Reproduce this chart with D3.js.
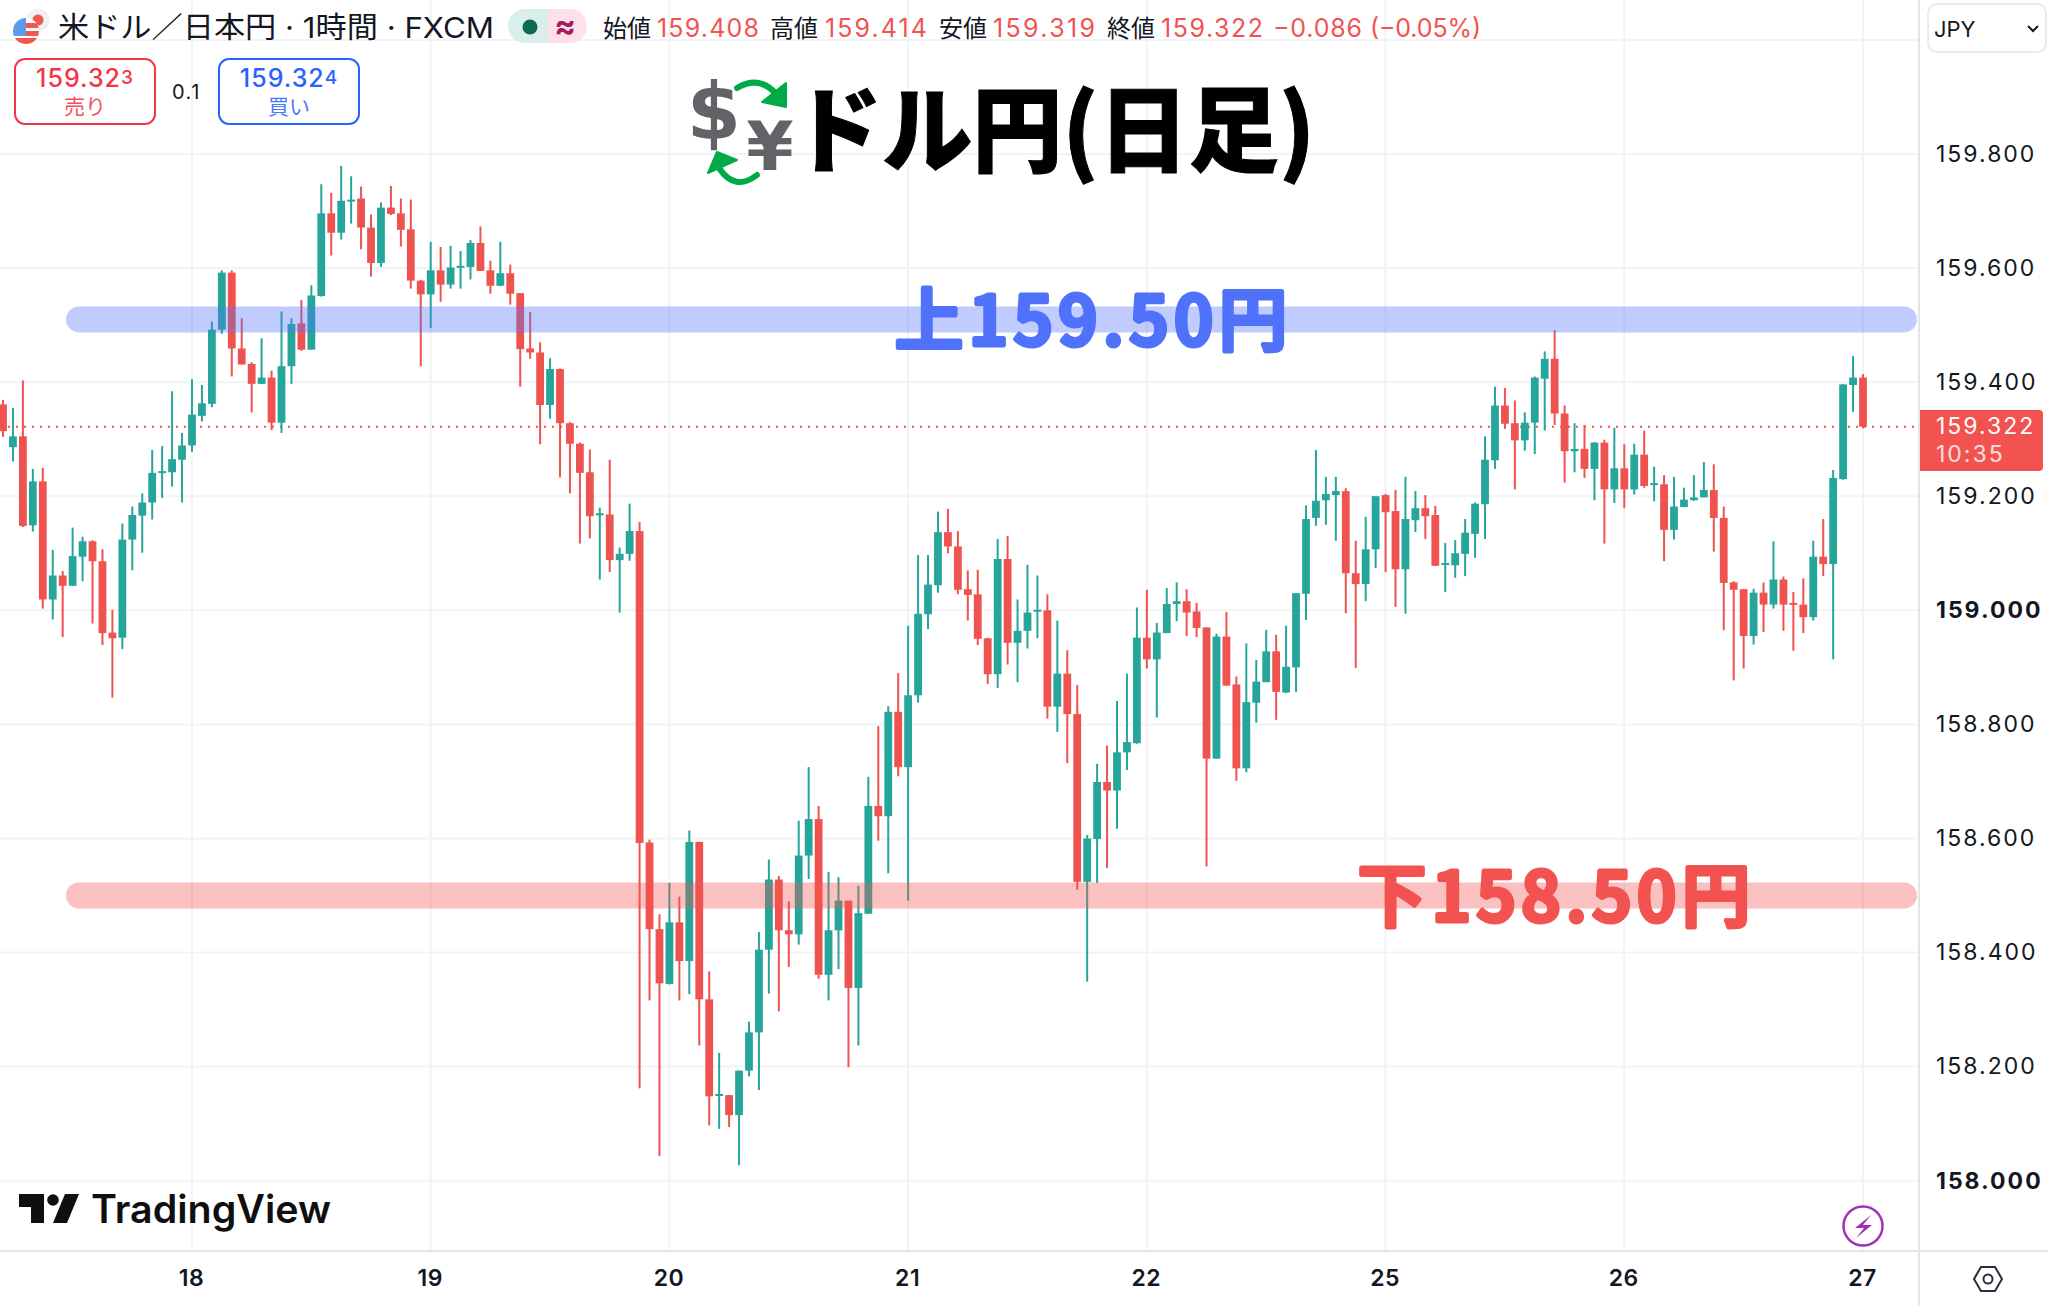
<!DOCTYPE html>
<html lang="ja">
<head>
<meta charset="utf-8">
<title>ドル円(日足)</title>
<script src="https://cdn.jsdelivr.net/npm/d3@7"></script>
<style>
  html, body { margin: 0; padding: 0; background: #fff; }
  svg { display: block; }
  text { font-family: Inter, "Noto Sans CJK JP", sans-serif; }
</style>
</head>
<body>
<div id="chart"></div>
<script>
// hourly candles, left to right
var opens = [
159.361,159.286,159.305,159.149,159.226,159.019,159.061,159.043,159.094,159.121,
159.086,158.961,158.952,159.124,159.166,159.189,159.242,159.242,159.264,159.289,
159.341,159.362,159.492,159.592,159.459,159.432,159.397,159.408,159.329,159.428,
159.503,159.457,159.551,159.696,159.662,159.718,159.722,159.671,159.609,159.706,
159.696,159.668,159.578,159.554,159.596,159.571,159.602,159.602,159.644,159.596,
159.569,159.591,159.556,159.459,159.452,159.360,159.423,159.328,159.292,159.242,
159.167,159.168,159.088,159.099,159.139,158.593,158.441,158.345,158.453,158.385,
158.594,158.318,158.149,158.150,158.115,158.193,158.260,158.405,158.528,158.439,
158.432,158.570,158.634,158.361,158.439,158.491,158.338,158.468,158.657,158.639,
158.822,158.725,158.851,158.993,159.044,159.137,159.112,159.037,159.028,158.951,
158.888,159.090,158.943,158.964,158.999,159.000,158.831,158.889,158.818,158.524,
158.599,158.699,158.684,158.751,158.767,158.952,158.914,158.960,159.011,159.016,
158.998,158.970,158.740,158.954,158.870,158.723,158.838,158.874,158.928,158.856,
158.900,159.029,159.162,159.193,159.202,159.209,159.065,159.046,159.107,159.202,
159.174,159.072,159.158,159.179,159.167,159.081,159.079,159.099,159.134,159.186,
159.263,159.359,159.328,159.298,159.329,159.406,159.441,159.345,159.279,159.283,
159.248,159.294,159.212,159.249,159.212,159.273,159.221,159.221,159.141,159.181,
159.193,159.198,159.211,159.162,159.049,159.037,158.955,159.031,159.010,159.054,
159.013,159.010,158.988,159.094,159.081,159.230,159.395,159.408];
var highs = [
159.369,159.355,159.403,159.248,159.250,159.106,159.069,159.145,159.129,159.123,
159.107,159.001,159.152,159.182,159.205,159.281,159.288,159.384,159.311,159.405,
159.395,159.506,159.596,159.596,159.512,159.435,159.477,159.420,159.524,159.512,
159.544,159.570,159.747,159.732,159.779,159.761,159.743,159.694,159.715,159.744,
159.722,159.720,159.579,159.646,159.637,159.639,159.630,159.649,159.673,159.613,
159.646,159.606,159.556,159.523,159.470,159.442,159.424,159.330,159.294,159.282,
159.180,159.264,159.110,159.187,159.155,158.598,158.467,158.522,158.498,158.614,
158.594,158.367,158.224,158.150,158.193,158.279,158.436,158.563,158.534,158.490,
158.631,158.725,158.657,158.541,158.532,158.491,158.517,158.708,158.797,158.832,
158.890,158.973,159.097,159.097,159.173,159.178,159.139,159.070,159.071,158.952,
159.125,159.130,159.019,159.080,159.061,159.028,158.982,158.930,158.869,158.606,
158.731,158.763,158.841,158.889,159.005,159.036,158.978,159.039,159.049,159.037,
159.013,158.970,158.959,158.997,158.884,158.942,158.913,158.966,158.957,158.973,
159.030,159.184,159.281,159.234,159.234,159.214,159.122,159.164,159.200,159.204,
159.211,159.234,159.209,159.202,159.183,159.118,159.123,159.160,159.189,159.305,
159.392,159.390,159.368,159.347,159.410,159.454,159.491,159.359,159.328,159.325,
159.295,159.299,159.320,159.291,159.292,159.315,159.252,159.237,159.234,159.215,
159.237,159.260,159.256,159.182,159.051,159.037,159.038,159.049,159.121,159.059,
159.032,159.056,159.122,159.160,159.246,159.397,159.446,159.414];
var lows = [
159.304,159.261,159.146,159.138,159.003,158.984,158.953,159.043,159.051,158.977,
158.939,158.847,158.932,159.070,159.101,159.159,159.197,159.217,159.189,159.278,
159.331,159.356,159.485,159.410,159.431,159.347,159.397,159.316,159.311,159.397,
159.455,159.457,159.550,159.622,159.650,159.678,159.633,159.585,159.602,159.693,
159.638,159.564,159.428,159.495,159.541,159.564,159.564,159.580,159.595,159.555,
159.569,159.536,159.392,159.441,159.291,159.336,159.233,159.205,159.117,159.126,
159.054,159.067,158.996,159.087,158.162,158.316,158.043,158.344,158.316,158.327,
158.237,158.097,158.091,158.094,158.027,158.183,158.159,158.328,158.297,158.375,
158.414,158.529,158.354,158.316,158.371,158.199,158.237,158.468,158.596,158.539,
158.709,158.491,158.838,158.967,159.031,159.100,159.028,158.982,158.939,158.871,
158.864,158.905,158.874,158.933,158.951,158.810,158.787,158.732,158.510,158.349,
158.522,158.548,158.617,158.720,158.766,158.898,158.812,158.960,158.981,158.955,
158.953,158.551,158.740,158.868,158.701,158.716,158.803,158.874,158.808,158.855,
158.857,158.983,159.148,159.150,159.122,158.995,158.899,159.016,159.074,159.067,
159.006,158.994,159.137,159.125,159.078,159.032,159.057,159.060,159.092,159.125,
159.248,159.318,159.212,159.280,159.274,159.315,159.325,159.224,159.242,159.232,
159.193,159.117,159.188,159.179,159.203,159.215,159.191,159.086,159.124,159.181,
159.192,159.198,159.103,158.965,158.877,158.898,158.940,158.962,159.003,158.964,
158.929,158.960,158.982,159.060,158.914,159.229,159.348,159.319];
var closes = [
159.314,159.305,159.148,159.226,159.019,159.061,159.043,159.095,159.121,159.086,
158.960,158.951,159.124,159.167,159.189,159.241,159.244,159.265,159.289,159.343,
159.363,159.492,159.592,159.459,159.431,159.397,159.408,159.329,159.428,159.502,
159.457,159.552,159.696,159.662,159.718,159.720,159.671,159.609,159.706,159.695,
159.667,159.578,159.554,159.596,159.571,159.601,159.604,159.644,159.595,159.569,
159.591,159.555,159.458,159.452,159.360,159.423,159.328,159.292,159.241,159.165,
159.170,159.088,159.099,159.139,158.592,158.441,158.346,158.453,158.385,158.594,
158.318,158.148,158.152,158.115,158.193,158.260,158.405,158.528,158.439,158.432,
158.570,158.634,158.361,158.439,158.491,158.338,158.469,158.657,158.639,158.822,
158.725,158.851,158.994,159.045,159.137,159.112,159.036,159.027,158.950,158.888,
159.090,158.943,158.964,158.996,159.001,158.831,158.889,158.818,158.524,158.600,
158.699,158.684,158.751,158.769,158.952,158.914,158.961,159.011,159.016,158.996,
158.969,158.740,158.954,158.868,158.723,158.839,158.875,158.928,158.857,158.901,
159.030,159.160,159.192,159.204,159.209,159.065,159.046,159.107,159.200,159.172,
159.072,159.160,159.179,159.165,159.078,159.083,159.100,159.136,159.187,159.264,
159.359,159.327,159.298,159.329,159.408,159.441,159.345,159.279,159.283,159.248,
159.294,159.212,159.249,159.212,159.273,159.218,159.223,159.141,159.182,159.194,
159.198,159.211,159.162,159.048,159.036,158.955,159.031,159.010,159.054,159.010,
159.011,158.988,159.094,159.081,159.232,159.396,159.408,159.322];

var dayLabels = ["18", "19", "20", "21", "22", "25", "26", "27"];
var dayIndex = [19, 43, 67, 91, 115, 139, 163, 187];
var priceTicks = [160.0, 159.8, 159.6, 159.4, 159.2, 159.0, 158.8, 158.6, 158.4, 158.2, 158.0];
var priceLabels = [159.8, 159.6, 159.4, 159.2, 159.0, 158.8, 158.6, 158.4, 158.2, 158.0];
var boldPrices = [159.0, 158.0];
var lastPrice = 159.322;
var bandLevels = [159.51, 158.50];

var upColor = "#26a69a", downColor = "#ef5350", blue = "#5071fa", red = "#f25350";
var textColor = "#131722";

var svg = d3.select("#chart").append("svg").attr("width", 2048).attr("height", 1305);

var paneRight = 1919, paneBottom = 1251;

var x = d3.scaleLinear().domain([0, 187]).range([3, 1863]);
var y = d3.scaleLinear().domain([159.8, 158.0]).range([154, 1180.7]);

// grid
var grid = svg.append("g");
grid.selectAll(".h").data(priceTicks).enter().append("line")
  .attr("x1", 0).attr("x2", paneRight)
  .attr("y1", d => y(d)).attr("y2", d => y(d))
  .attr("stroke", "#f2f3f5").attr("stroke-width", 2);
grid.selectAll(".v").data(dayIndex).enter().append("line")
  .attr("x1", d => x(d)).attr("x2", d => x(d))
  .attr("y1", 0).attr("y2", paneBottom)
  .attr("stroke", "#f2f3f5").attr("stroke-width", 2);

// last price dotted line
svg.append("line")
  .attr("x1", 0).attr("x2", paneRight)
  .attr("y1", y(lastPrice)).attr("y2", y(lastPrice))
  .attr("stroke", downColor).attr("stroke-width", 2).attr("stroke-dasharray", "2 6");

// candles
var candles = svg.append("g").selectAll("g").data(opens).enter().append("g")
  .attr("fill", (d, i) => closes[i] >= d ? upColor : downColor);
candles.append("rect")
  .attr("x", (d, i) => x(i) - 1)
  .attr("width", 2)
  .attr("y", (d, i) => y(highs[i]))
  .attr("height", (d, i) => y(lows[i]) - y(highs[i]));
candles.append("rect")
  .attr("x", (d, i) => x(i) - 3.9)
  .attr("width", 7.8)
  .attr("y", (d, i) => y(Math.max(d, closes[i])))
  .attr("height", (d, i) => Math.max(2, Math.abs(y(d) - y(closes[i]))));

// hand drawn bands
svg.append("g").selectAll("rect").data(bandLevels).enter().append("rect")
  .attr("x", 66).attr("width", 1851)
  .attr("y", d => y(d) - 13).attr("height", 26).attr("rx", 13)
  .attr("fill", (d, i) => i == 0 ? blue : red)
  .attr("opacity", 0.36);

// band captions, rounded with a thick stroke
function caption(txt, left, base, width, color) {
  svg.append("text").text(txt)
    .attr("x", left).attr("y", base)
    .attr("textLength", width).attr("lengthAdjust", "spacing")
    .attr("fill", color).attr("stroke", color).attr("stroke-width", 5)
    .attr("stroke-linejoin", "round").attr("stroke-linecap", "round")
    .style("font-family", '"Noto Sans CJK JP"').style("font-weight", 500).style("font-size", "68px");
}
caption("上159.50円", 895, 345, 392, blue);
caption("下158.50円", 1358, 921, 392, red);

// big title
svg.append("text").text("ドル円(日足)")
  .attr("x", 792).attr("y", 165)
  .attr("textLength", 523).attr("lengthAdjust", "spacingAndGlyphs")
  .attr("fill", "#000").attr("stroke", "#000").attr("stroke-width", 1)
  .style("font-family", '"Noto Sans CJK JP"').style("font-weight", 900).style("font-size", "94px");

// currency exchange emoji
svg.append("text").text("$").attr("x", 714).attr("y", 139).attr("text-anchor", "middle")
  .attr("fill", "#626367").style("font-family", "'DejaVu Sans'").style("font-weight", 700).style("font-size", "78px");
svg.append("text").text("¥").attr("x", 770).attr("y", 170).attr("text-anchor", "middle")
  .attr("fill", "#626367").style("font-family", "'DejaVu Sans'").style("font-weight", 700).style("font-size", "68px");
svg.append("path").attr("d", "M737,88 Q760,74 778,96").attr("fill", "none").attr("stroke", "#00ab47")
  .attr("stroke-width", 6).attr("stroke-linecap", "round");
svg.append("path").attr("d", "M786,83 L786,107 L762,102 Z").attr("fill", "#00ab47")
  .attr("stroke", "#00ab47").attr("stroke-width", 2).attr("stroke-linejoin", "round");
svg.append("path").attr("d", "M757,175 Q735,192 719,168").attr("fill", "none").attr("stroke", "#00ab47")
  .attr("stroke-width", 6).attr("stroke-linecap", "round");
svg.append("path").attr("d", "M708,173 L717,152 L737,160 Z").attr("fill", "#00ab47")
  .attr("stroke", "#00ab47").attr("stroke-width", 2).attr("stroke-linejoin", "round");

// pair flags
var defs = svg.append("defs");
defs.append("clipPath").attr("id", "usClip").append("circle").attr("cx", 26).attr("cy", 31).attr("r", 13);
svg.append("circle").attr("cx", 38).attr("cy", 20).attr("r", 11.5).attr("fill", "#eef0f3");
svg.append("circle").attr("cx", 38).attr("cy", 20).attr("r", 5.5).attr("fill", "#f0584f");
var us = svg.append("g").attr("clip-path", "url(#usClip)");
us.append("rect").attr("x", 10).attr("y", 15).attr("width", 32).attr("height", 32).attr("fill", "#fff");
us.append("rect").attr("x", 26).attr("y", 23).attr("width", 16).attr("height", 5).attr("fill", "#f0584f");
us.append("rect").attr("x", 26).attr("y", 31).attr("width", 16).attr("height", 5).attr("fill", "#f0584f");
us.append("rect").attr("x", 10).attr("y", 38).attr("width", 32).attr("height", 9).attr("fill", "#f0584f");
us.append("rect").attr("x", 10).attr("y", 15).attr("width", 16).attr("height", 21).attr("fill", "#5b9be8");

// header
svg.append("text").text("米ドル／日本円 · 1時間 · FXCM")
  .attr("x", 58).attr("y", 38).attr("textLength", 436).attr("lengthAdjust", "spacingAndGlyphs")
  .attr("fill", textColor).style("font-size", "29px");

svg.append("path").attr("d", "M548,9 H525 A17,17 0 0 0 525,43 H548 Z").attr("fill", "#daefeb");
svg.append("path").attr("d", "M548,9 H570 A17,17 0 0 1 570,43 H548 Z").attr("fill", "#fde0ea");
svg.append("circle").attr("cx", 530).attr("cy", 27).attr("r", 7.5).attr("fill", "#0b6b57");
svg.append("text").text("≈").attr("x", 565).attr("y", 37).attr("text-anchor", "middle")
  .attr("fill", "#a81b5a").style("font-size", "32px").style("font-weight", 700);

var ohlcLabels = ["始値", "高値", "安値", "終値"];
var ohlcValues = ["159.408", "159.414", "159.319", "159.322"];
var ohlcLabelX = [603, 770, 939, 1107];
var ohlcValueX = [657, 825, 993, 1161];
ohlcLabels.forEach(function(l, i) {
  svg.append("text").text(l).attr("x", ohlcLabelX[i]).attr("y", 37)
    .attr("fill", textColor).style("font-size", "24px");
  svg.append("text").text(ohlcValues[i]).attr("x", ohlcValueX[i]).attr("y", 37)
    .attr("textLength", 102).attr("fill", red).style("font-size", "25px");
});
svg.append("text").text("−0.086").attr("x", 1273).attr("y", 37).attr("textLength", 89)
  .attr("fill", red).style("font-size", "25px");
svg.append("text").text("(−0.05%)").attr("x", 1370).attr("y", 37).attr("textLength", 111)
  .attr("fill", red).style("font-size", "25px");

// sell / buy buttons
function button(left, width, color, lastDigit, label) {
  svg.append("rect").attr("x", left).attr("y", 59).attr("width", width).attr("height", 65).attr("rx", 10)
    .attr("fill", "#fff").attr("stroke", color).attr("stroke-width", 2);
  var t = svg.append("text").attr("x", left + width / 2).attr("y", 87).attr("text-anchor", "middle")
    .attr("fill", color).style("font-weight", 500).style("font-size", "25px").style("letter-spacing", "1px");
  t.append("tspan").text("159.32");
  t.append("tspan").text(lastDigit).attr("dy", -3).style("font-size", "19px");
  svg.append("text").text(label).attr("x", left + width / 2).attr("y", 114).attr("text-anchor", "middle")
    .attr("fill", color).attr("opacity", 0.85).style("font-size", "21px");
}
button(15, 140, "#f23645", "3", "売り");
button(219, 140, "#2962ff", "4", "買い");
svg.append("text").text("0.1").attr("x", 172).attr("y", 99).attr("fill", textColor)
  .style("font-size", "20px").style("letter-spacing", "1.5px");

// price axis
svg.append("line").attr("x1", paneRight).attr("x2", paneRight).attr("y1", 0).attr("y2", 1305)
  .attr("stroke", "#e3e4e7").attr("stroke-width", 2);
var yAxis = d3.axisRight(y).tickValues(priceLabels).tickFormat(d3.format(".3f")).tickSize(0).tickPadding(0);
var yg = svg.append("g").attr("transform", "translate(1936,0)").call(yAxis);
yg.select(".domain").remove();
yg.selectAll("text")
  .attr("fill", textColor)
  .style("font-family", "Inter").style("font-size", "23px").style("letter-spacing", "2px")
  .style("font-weight", d => boldPrices.includes(d) ? 700 : 400);

// last price tag
svg.append("path").attr("d", "M1920,410 H2039 A4,4 0 0 1 2043,414 V467 A4,4 0 0 1 2039,471 H1920 Z").attr("fill", red);
svg.append("text").text(d3.format(".3f")(lastPrice)).attr("x", 1936).attr("y", 434).attr("fill", "#fff")
  .style("font-size", "23px").style("letter-spacing", "2px");
svg.append("text").text("10:35").attr("x", 1936).attr("y", 462).attr("fill", "#fff").attr("opacity", 0.8)
  .style("font-size", "23px").style("letter-spacing", "2px");

// JPY button
svg.append("rect").attr("x", 1928).attr("y", 4).attr("width", 118).attr("height", 48).attr("rx", 9)
  .attr("fill", "#fff").attr("stroke", "#ebebed").attr("stroke-width", 2);
svg.append("text").text("JPY").attr("x", 1934).attr("y", 37).attr("fill", textColor).style("font-size", "22px");
svg.append("path").attr("d", "M2028,26 L2033,31 L2038,26").attr("fill", "none").attr("stroke", textColor).attr("stroke-width", 2);

// time axis
svg.append("line").attr("x1", 0).attr("x2", 2048).attr("y1", paneBottom).attr("y2", paneBottom)
  .attr("stroke", "#e3e4e7").attr("stroke-width", 2);
var xAxis = d3.axisBottom(x).tickValues(dayIndex).tickFormat((d, i) => dayLabels[i]).tickSize(0).tickPadding(0);
var xg = svg.append("g").attr("transform", "translate(-1,1270)").call(xAxis);
xg.select(".domain").remove();
xg.selectAll("text")
  .attr("fill", textColor)
  .style("font-family", "Inter").style("font-size", "23px").style("font-weight", 600).style("letter-spacing", "0.5px");

// settings hexagon
svg.append("path").attr("d", "M1974,1279 L1981,1267 H1995 L2002,1279 L1995,1291 H1981 Z")
  .attr("fill", "none").attr("stroke", "#2a2e39").attr("stroke-width", 2);
svg.append("circle").attr("cx", 1988).attr("cy", 1279).attr("r", 4.5)
  .attr("fill", "none").attr("stroke", "#2a2e39").attr("stroke-width", 2);

// flash icon
svg.append("circle").attr("cx", 1863).attr("cy", 1226).attr("r", 19.5)
  .attr("fill", "#fff").attr("stroke", "#a22fb8").attr("stroke-width", 2.5);
svg.append("path").attr("d", "M1871,1215 L1855,1228 H1864 L1856,1238 L1872,1225 H1863 Z").attr("fill", "#a22fb8");

// logo
var logo = svg.append("g").attr("fill", "#0f0f10");
logo.append("path").attr("d", "M19,1194 H44 V1223 H31 V1207 H19 Z");
logo.append("circle").attr("cx", 53).attr("cy", 1200).attr("r", 5.8);
logo.append("path").attr("d", "M65,1194 H79 L67,1223 H53 Z");
logo.append("text").text("TradingView").attr("x", 91).attr("y", 1223)
  .attr("textLength", 240).attr("lengthAdjust", "spacingAndGlyphs")
  .style("font-family", "Inter").style("font-weight", 600).style("font-size", "39px");
</script>
</body>
</html>
